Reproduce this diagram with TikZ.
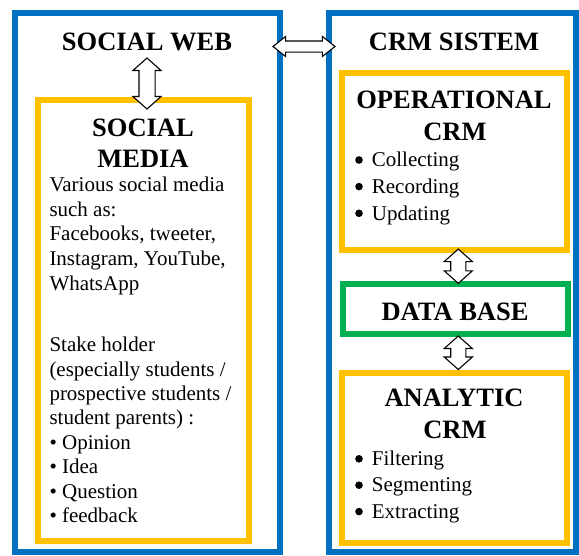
\documentclass[tikz,border=0pt]{standalone}
\usepackage{fontspec}
\setmainfont{Liberation Serif}
\usetikzlibrary{shapes.arrows}
\definecolor{boxblue}{HTML}{0070C0}
\definecolor{boxyellow}{HTML}{FFC000}
\definecolor{boxgreen}{HTML}{00B050}
\begin{document}
\begin{tikzpicture}[x=1pt,y=-1pt,
  frame/.style={draw, line width=6pt, inner sep=0pt},
  titletext/.style={font=\fontsize{26.5}{30}\selectfont\bfseries, anchor=base, inner sep=0pt},
  bodytext/.style={font=\fontsize{21}{24}\selectfont, anchor=base west, inner sep=0pt},
  blockarrow/.style={double arrow, draw=black, fill=white, line width=1.1pt, inner xsep=0pt}
]
\useasboundingbox (0,0) rectangle (579,555);

% outer frames
\node[frame, draw=boxblue, minimum width=265pt, minimum height=538.2pt] (webbox) at (147.5,282.4) {};
\node[frame, draw=boxblue, minimum width=247.5pt, minimum height=538.2pt] (crmbox) at (452.25,282.4) {};

% inner frames
\node[frame, draw=boxyellow, minimum width=211.2pt, minimum height=441.5pt] (mediabox) at (143.1,320.25) {};
\node[frame, draw=boxyellow, minimum width=225pt, minimum height=176.7pt] (opbox) at (454.2,161.65) {};
\node[frame, draw=boxgreen, minimum width=225.6pt, minimum height=49.7pt] (dbbox) at (455.3,309.15) {};
\node[frame, draw=boxyellow, minimum width=225pt, minimum height=170pt] (anbox) at (454.2,457.7) {};

% titles
\node[titletext] (webtitle) at (147,50) {SOCIAL WEB};
\node[titletext] (crmtitle) at (454,50) {CRM SISTEM};
\node[titletext] (media1) at (143,136.7) {SOCIAL};
\node[titletext] (media2) at (143,167) {MEDIA};
\node[titletext] (op1) at (454,108.3) {OPERATIONAL};
\node[titletext] (op2) at (455,140) {CRM};
\node[titletext] (dbtitle) at (455,320) {DATA BASE};
\node[titletext] (an1) at (454,406.7) {ANALYTIC};
\node[titletext] (an2) at (455,438.3) {CRM};

% social media text
\node[bodytext] (sm1) at (49.3,191.7) {Various social media};
\node[bodytext] (sm2) at (49.3,216.3) {such as:};
\node[bodytext] (sm3) at (49.3,240.9) {Facebooks, tweeter,};
\node[bodytext] (sm4) at (49.3,265.5) {Instagram, YouTube,};
\node[bodytext] (sm5) at (49.3,290.1) {WhatsApp};
\node[bodytext] (sm6) at (49.3,351.7) {Stake holder};
\node[bodytext] (sm7) at (49.3,376.1) {(especially students /};
\node[bodytext] (sm8) at (49.3,400.5) {prospective students /};
\node[bodytext] (sm9) at (49.3,424.9) {student parents) :};
\node[bodytext] (sm10) at (49.3,449.3) {• Opinion};
\node[bodytext] (sm11) at (49.3,473.7) {• Idea};
\node[bodytext] (sm12) at (49.3,498.1) {• Question};
\node[bodytext] (sm13) at (49.3,522.5) {• feedback};

% operational list
\foreach \t/\yy [count=\i] in {Collecting/166.7, Recording/193.3, Updating/220}
{ \node[bodytext] (opl\i) at (371.7,\yy) {\t};
  \fill (359,\yy-6.7) circle (3.8pt); }

% analytic list
\foreach \t/\yy [count=\i] in {Filtering/465.5, Segmenting/491.9, Extracting/518.3}
{ \node[bodytext] (anl\i) at (371.7,\yy) {\t};
  \fill (359,\yy-6.7) circle (3.8pt); }

% block arrows
\node[blockarrow, rotate=90, minimum height=51pt, minimum width=27pt, inner ysep=7.5pt,
  double arrow head extend=6pt, double arrow tip angle=96.7] (a1) at (147,83.5) {};
\node[blockarrow, minimum height=62pt, minimum width=19pt, inner ysep=5pt,
  double arrow head extend=4.5pt, double arrow tip angle=76.8] (a2) at (304,46.5) {};
\node[blockarrow, rotate=90, minimum height=34.3pt, minimum width=27pt, inner ysep=7pt,
  double arrow head extend=6.5pt, double arrow tip angle=96.7] (a3) at (458.3,266.2) {};
\node[blockarrow, rotate=90, minimum height=33.5pt, minimum width=27pt, inner ysep=7pt,
  double arrow head extend=6.5pt, double arrow tip angle=96.7] (a4) at (458.3,352.75) {};
\end{tikzpicture}
\end{document}
